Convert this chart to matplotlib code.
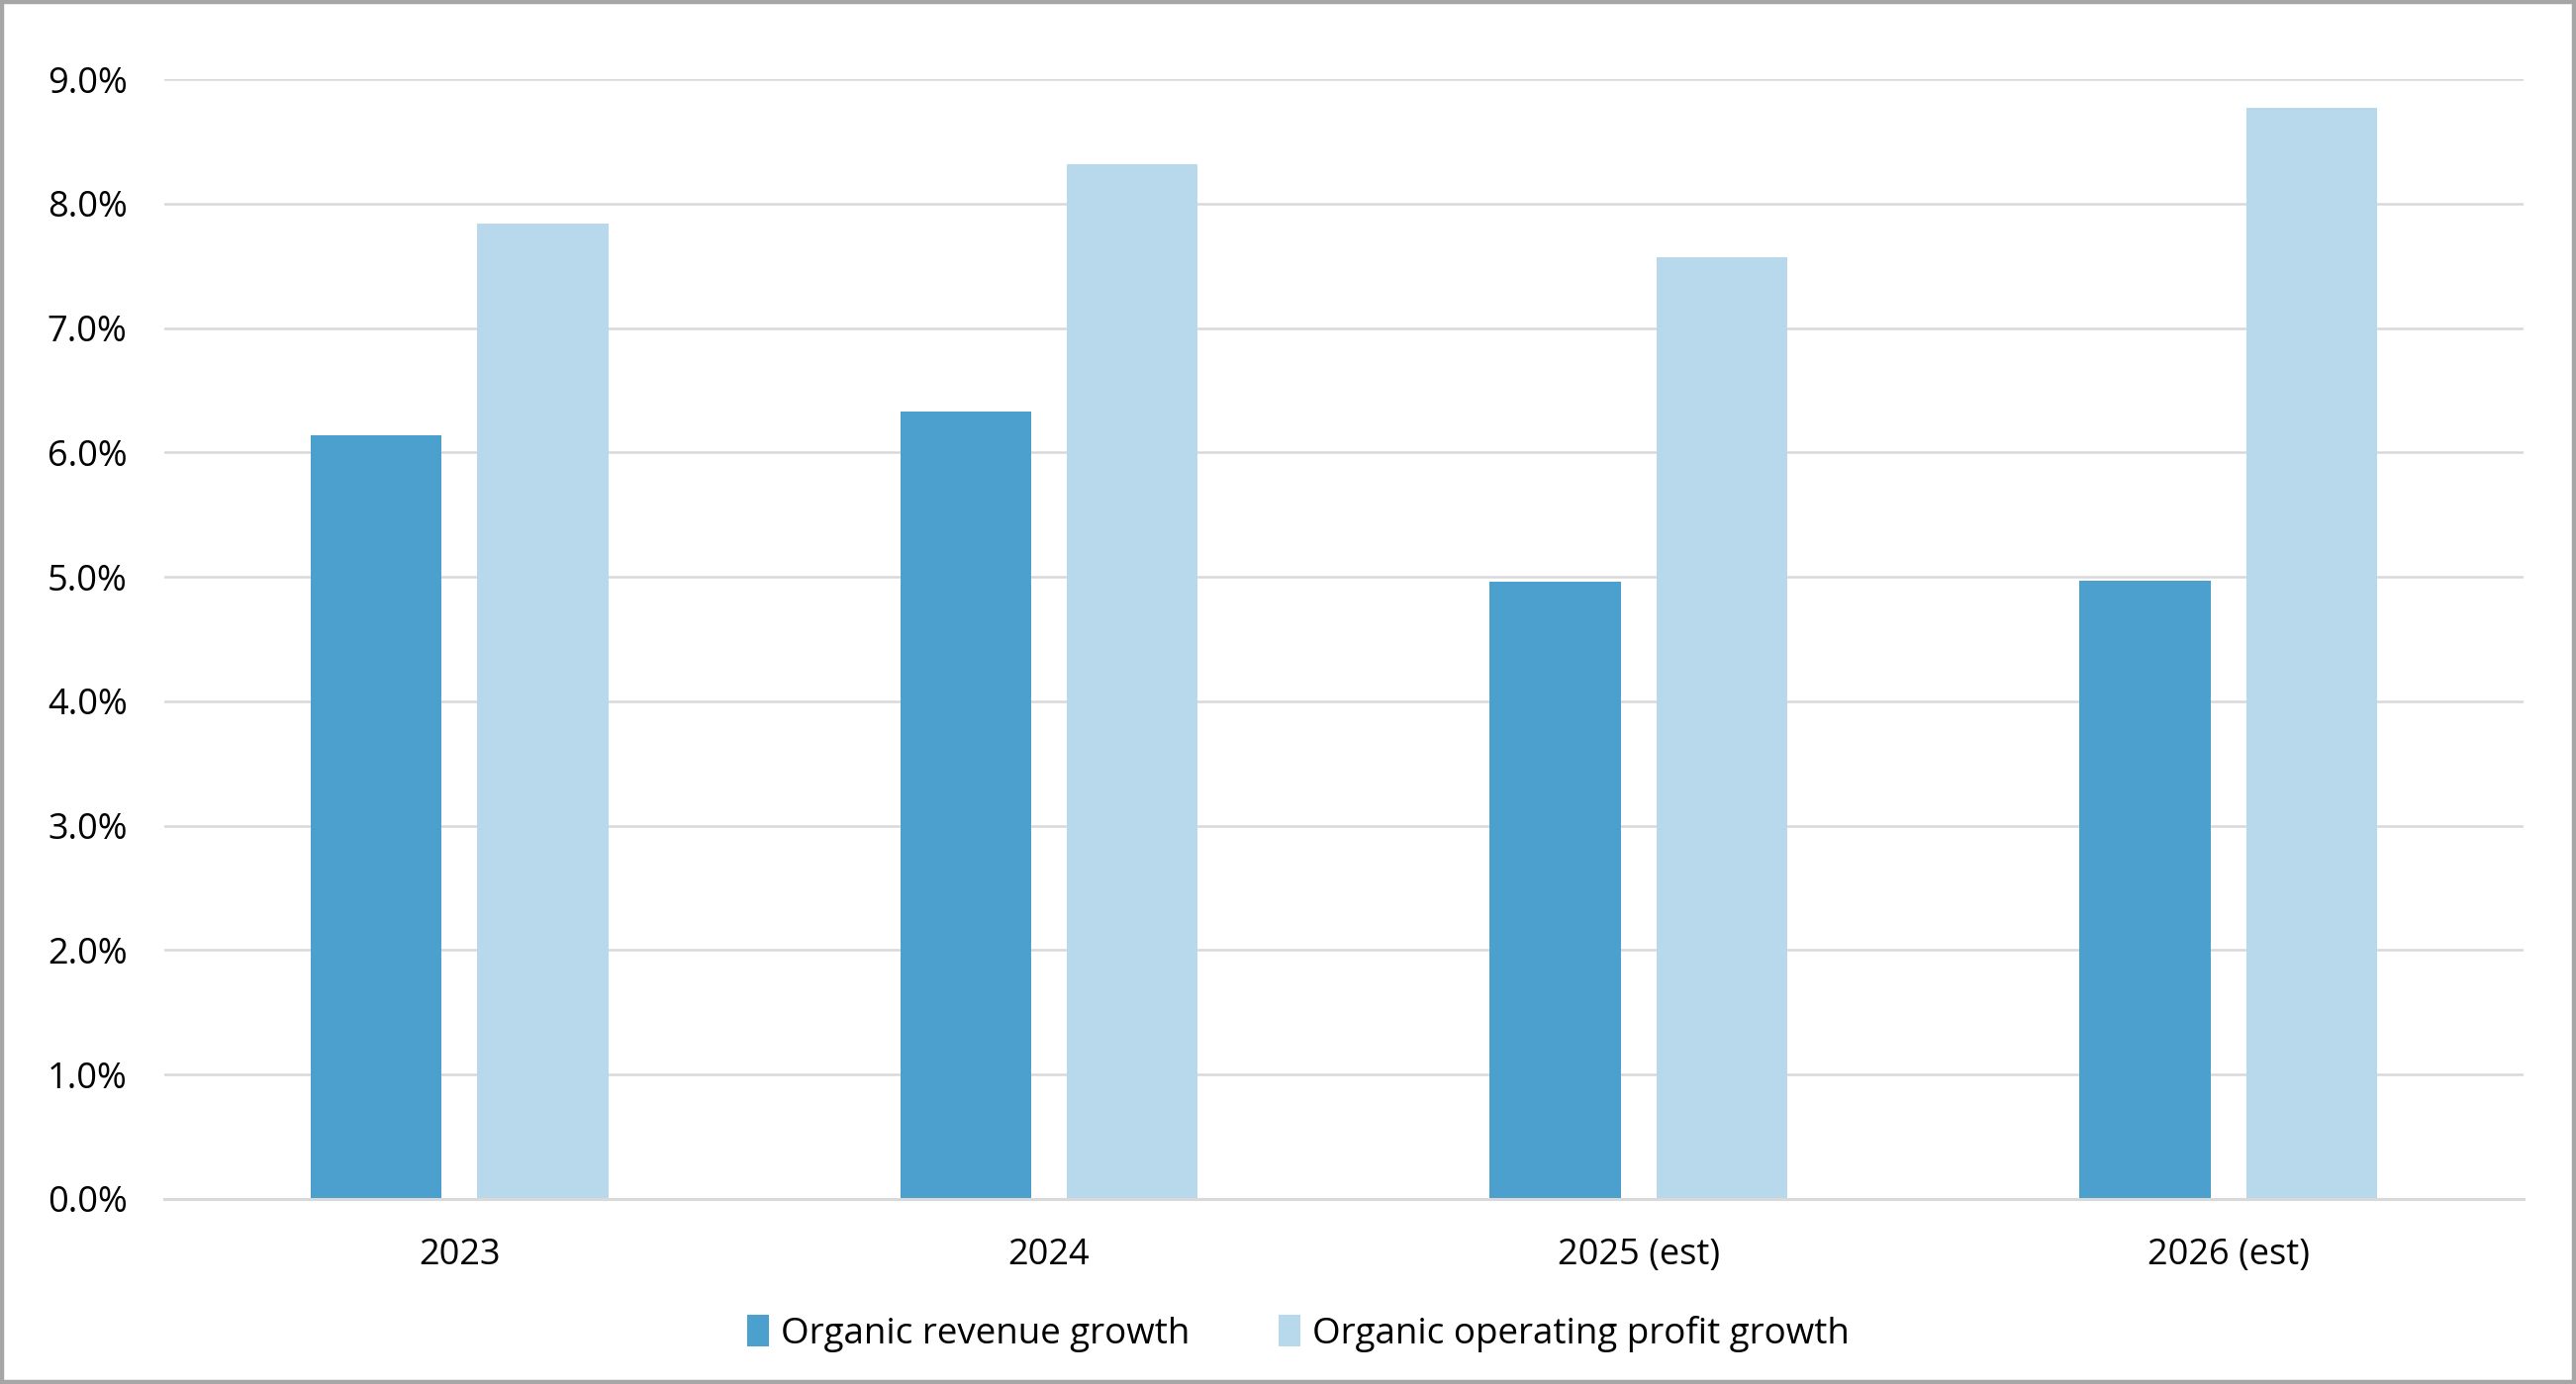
import matplotlib
matplotlib.use('Agg')
import matplotlib.pyplot as plt
from matplotlib.ticker import FuncFormatter
from matplotlib.patches import Rectangle
import numpy as np

plt.rcParams['font.family'] = ['Open Sans', 'DejaVu Sans']

# data (percent)
years = ['2023', '2024', '2025 (est)', '2026 (est)']
revenue_growth = [6.14, 6.33, 4.96, 4.97]
profit_growth = [7.84, 8.32, 7.57, 8.77]

dark_blue = '#4ba0ce'
light_blue = '#b8d9eb'
grid_grey = '#d9d9d9'

fig = plt.figure(figsize=(26.03, 13.99), dpi=100)
ax = fig.add_axes([0.0638, 0.1337, 0.9158, 0.8091])

x = np.arange(len(years))
w = 0.223
ax.bar(x - 0.141, revenue_growth, w, color=dark_blue, label='Organic revenue growth', zorder=3)
ax.bar(x + 0.141, profit_growth, w, color=light_blue, label='Organic operating profit growth', zorder=3)

ax.set_xlim(-0.5, 3.5)
ax.set_ylim(0, 9)
ax.set_yticks(np.arange(0, 9.5, 1))
ax.yaxis.set_major_formatter(FuncFormatter(lambda v, p: f'{v:.1f}%'))
ax.set_xticks(x)
ax.set_xticklabels(years)

ax.grid(axis='y', color=grid_grey, linewidth=1.8, zorder=0)
for s in ['top', 'right', 'left']:
    ax.spines[s].set_visible(False)
ax.spines['bottom'].set_color(grid_grey)
ax.spines['bottom'].set_linewidth(2.2)
ax.spines['bottom'].set_zorder(4)

ax.tick_params(axis='both', length=0, labelsize=26, colors='black')
ax.tick_params(axis='y', pad=27)
ax.tick_params(axis='x', pad=28)

fig.legend(loc='center', bbox_to_anchor=(0.504, 0.0365), ncol=2, frameon=False,
           fontsize=26.5, handlelength=0.6, handleheight=0.95, handletextpad=0.32,
           columnspacing=2.45)

# grey frame around the whole chart
fig.patches.append(Rectangle((0.0008, 0.0014), 0.9984, 0.9972, transform=fig.transFigure,
                             fill=False, edgecolor='#a6a6a6', linewidth=3.2))

fig.savefig('out.png', dpi=100)
